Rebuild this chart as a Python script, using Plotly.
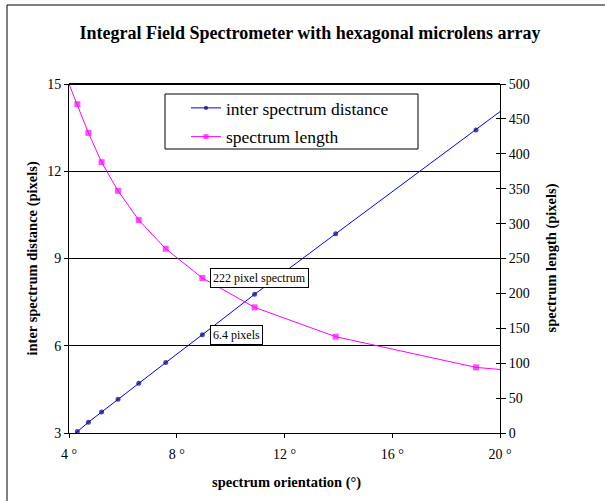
import plotly.graph_objects as go

# ---- data ----
orientation_deg = [4.0, 4.31, 4.72, 5.21, 5.82, 6.59, 7.59, 8.95, 10.89, 13.90, 19.11, 20.0]
inter_spectrum_distance = [2.80, 3.05, 3.37, 3.72, 4.16, 4.71, 5.42, 6.38, 7.77, 9.85, 13.42, 14.05]
spectrum_length = [500, 471, 430, 388, 347, 305, 264, 222, 180, 138, 94, 91]
marker_shown = [0, 1, 1, 1, 1, 1, 1, 1, 1, 1, 1, 0]

x_ticks = [4, 8, 12, 16, 20]
x_tick_labels = ["4 °", "8 °", "12 °", "16 °", "20 °"]
left_ticks = [3, 6, 9, 12, 15]
right_ticks = [0, 50, 100, 150, 200, 250, 300, 350, 400, 450, 500]

title_text = "Integral Field Spectrometer with hexagonal microlens array"
x_title = "spectrum orientation (°)"
y_left_title = "inter spectrum distance (pixels)"
y_right_title = "spectrum length (pixels)"
note_length = "222 pixel spectrum"
note_distance = "6.4 pixels"
note_index = 7

SERIF = "Liberation Serif"

fig = go.Figure()

fig.add_trace(go.Scatter(
    x=orientation_deg, y=inter_spectrum_distance, name="inter spectrum distance",
    mode="lines+markers", yaxis="y", legendgroup="a",
    line=dict(color="#0000FF", width=1),
    marker=dict(symbol="circle", color="#000080",
                size=[5 * m for m in marker_shown], line=dict(width=0)),
))
fig.add_trace(go.Scatter(
    x=orientation_deg, y=spectrum_length, name="spectrum length",
    mode="lines+markers", yaxis="y2", legendgroup="b",
    line=dict(color="#FF00FF", width=1),
    marker=dict(symbol="square", color="#FF00FF",
                size=[6 * m for m in marker_shown], line=dict(width=0)),
))

W, H = 605, 501
L, R, T, B = 69, 105, 84, 68
pw, ph = W - L - R, H - T - B

def px_x(p):
    return (p - L) / pw

def px_y(p):
    return (H - B - p) / ph

fig.update_layout(
    width=W, height=H,
    margin=dict(l=L, r=R, t=T, b=B),
    paper_bgcolor="white", plot_bgcolor="white",
    font=dict(family=SERIF, color="black", size=14),
    title=dict(text="<b>" + title_text + "</b>", x=310 / W, xanchor="center",
               xref="container", yref="container", y=1 - 33 / H, yanchor="middle",
               font=dict(family=SERIF, size=18, color="black")),
    showlegend=True,
    legend=dict(x=px_x(186), y=px_y(90), xanchor="left", yanchor="top",
                bgcolor="rgba(0,0,0,0)", borderwidth=0, tracegroupgap=3,
                font=dict(family=SERIF, size=17.5, color="black"),
                itemsizing="trace"),
    xaxis=dict(range=[4, 20], tickvals=x_ticks, ticktext=x_tick_labels,
               showgrid=False, zeroline=False,
               showline=True, linecolor="black", linewidth=1,
               ticks="outside", ticklen=4, tickcolor="black",
               ticklabelstandoff=4,
               tickfont=dict(family=SERIF, size=14)),
    yaxis=dict(range=[3, 15], tickvals=left_ticks,
               showgrid=True, gridcolor="black", gridwidth=1, zeroline=False,
               showline=True, linecolor="black", linewidth=1, mirror=False,
               ticks="outside", ticklen=4, tickcolor="black",
               tickfont=dict(family=SERIF, size=14)),
    yaxis2=dict(range=[0, 500], tickvals=right_ticks, overlaying="y", side="right",
                showgrid=False, zeroline=False,
                showline=True, linecolor="black", linewidth=1,
                ticks="outside", ticklen=5, tickcolor="black",
                tickfont=dict(family=SERIF, size=14)),
    yaxis3=dict(range=[0, 500], tickvals=right_ticks, overlaying="y", side="right",
                anchor="x", showgrid=False, zeroline=False, showticklabels=False,
                showline=False, ticks="inside", ticklen=4, tickcolor="black"),
)

# invisible trace to activate yaxis3 (inside ticks on the right axis)
fig.add_trace(go.Scatter(x=[None], y=[None], yaxis="y3", showlegend=False, hoverinfo="skip"))

shapes = [
    # plot top border
    dict(type="line", xref="paper", yref="paper", x0=0, x1=1, y0=1, y1=1,
         line=dict(color="black", width=2)),
    # legend box
    dict(type="rect", xref="paper", yref="paper",
         x0=px_x(165), x1=px_x(418), y0=px_y(94), y1=px_y(149),
         line=dict(color="black", width=1), fillcolor="white", layer="above"),
    # outer frame (left and top)
    dict(type="line", xref="paper", yref="paper", x0=px_x(7), x1=px_x(7),
         y0=px_y(5), y1=px_y(520), line=dict(color="black", width=1)),
    dict(type="line", xref="paper", yref="paper", x0=px_x(7), x1=px_x(620),
         y0=px_y(5), y1=px_y(5), line=dict(color="black", width=1)),
]
fig.update_layout(shapes=shapes)

annotations = [
    dict(text="<b>" + y_left_title + "</b>", xref="paper", yref="paper",
         x=px_x(32), y=0.5, textangle=-90, showarrow=False,
         xanchor="center", yanchor="middle", font=dict(family=SERIF, size=14.5)),
    dict(text="<b>" + y_right_title + "</b>", xref="paper", yref="paper",
         x=px_x(551), y=0.5, textangle=-90, showarrow=False,
         xanchor="center", yanchor="middle", font=dict(family=SERIF, size=14.5)),
    dict(text="<b>" + x_title + "</b>", xref="paper", yref="paper",
         x=px_x(286), y=px_y(482), showarrow=False,
         xanchor="center", yanchor="middle", font=dict(family=SERIF, size=14.5)),
    dict(text=note_length, xref="x", yref="y2",
         x=orientation_deg[note_index], y=spectrum_length[note_index],
         xanchor="left", yanchor="middle", xshift=8, showarrow=False,
         bgcolor="white", bordercolor="black", borderwidth=1, borderpad=2,
         font=dict(family=SERIF, size=12)),
    dict(text=note_distance, xref="x", yref="y",
         x=orientation_deg[note_index], y=inter_spectrum_distance[note_index],
         xanchor="left", yanchor="middle", xshift=8, showarrow=False,
         bgcolor="white", bordercolor="black", borderwidth=1, borderpad=2,
         font=dict(family=SERIF, size=12)),
]
fig.update_layout(annotations=annotations)

fig.write_html("out.html")
